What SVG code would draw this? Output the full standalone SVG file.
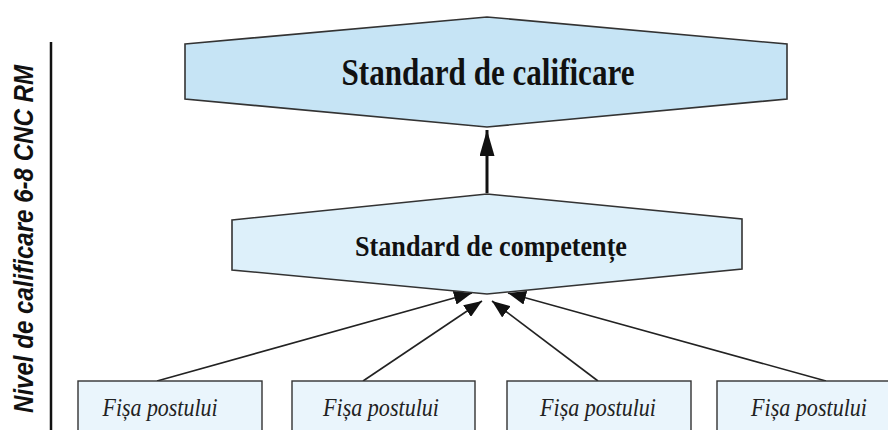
<svg xmlns="http://www.w3.org/2000/svg" width="888" height="430" viewBox="0 0 888 430">
<style>
.hex{stroke:#333;stroke-width:1.6;stroke-linejoin:miter}
.box{fill:#eaf5fc;stroke:#333;stroke-width:1.4}
.t1{font-family:"Liberation Serif",serif;font-weight:bold;fill:#111;text-anchor:middle}
.t2{font-family:"Liberation Serif",serif;font-style:italic;fill:#222;text-anchor:middle;font-size:26px}
.con{stroke:#222;stroke-width:1.6;fill:none}
.main{stroke:#111;stroke-width:3;fill:none}
</style>
<defs>
<marker id="ah" markerUnits="userSpaceOnUse" viewBox="0 0 18 14" markerWidth="18" markerHeight="14" refX="18" refY="7" orient="auto">
<path d="M0,0 L18,7 L0,14 Z" fill="#111"/>
</marker>
<marker id="ahb" markerUnits="userSpaceOnUse" viewBox="0 0 26 15" markerWidth="26" markerHeight="15" refX="26" refY="7.5" orient="auto">
<path d="M0,0 L26,7.5 L0,15 Z" fill="#111"/>
</marker>
</defs>
<rect width="888" height="430" fill="#fff"/>
<g id="axis">
<line x1="51" y1="42" x2="51" y2="430" stroke="#111" stroke-width="2.5"/>
<text transform="translate(33,239) rotate(-90)" x="0" y="0" text-anchor="middle" font-family="'Liberation Sans',Arial,sans-serif" font-weight="bold" font-style="italic" font-size="27" textLength="348" lengthAdjust="spacingAndGlyphs" fill="#111">Nivel de calificare 6-8 CNC RM</text>
</g>
<g id="connectors">
<line class="main" x1="487" y1="193" x2="487" y2="130" marker-end="url(#ahb)"/>
<line class="con" x1="157" y1="381" x2="472" y2="293" marker-end="url(#ah)"/>
<line class="con" x1="363" y1="381" x2="482" y2="301" marker-end="url(#ah)"/>
<line class="con" x1="598" y1="381" x2="492" y2="301" marker-end="url(#ah)"/>
<line class="con" x1="826" y1="381" x2="508" y2="293" marker-end="url(#ah)"/>
</g>
<g id="standard-calificare">
<polygon class="hex" fill="#c6e4f5" points="185,44 487,17 787,44 787,99 487,127 185,99"/>
<text class="t1" x="488" y="85" font-size="38" textLength="293" lengthAdjust="spacingAndGlyphs">Standard de calificare</text>
</g>
<g id="standard-competente">
<polygon class="hex" fill="#ddf0fa" points="232,220 487,194 742,219 742,269 487,294 232,270"/>
<text class="t1" x="491" y="256" font-size="29" textLength="272" lengthAdjust="spacingAndGlyphs">Standard de competențe</text>
</g>
<g id="fisa1">
<rect class="box" x="78" y="381" width="184" height="60"/>
<text class="t2" x="160" y="416" textLength="115" lengthAdjust="spacingAndGlyphs">Fișa postului</text>
</g>
<g id="fisa2">
<rect class="box" x="292" y="381" width="183" height="60"/>
<text class="t2" x="381" y="416" textLength="116" lengthAdjust="spacingAndGlyphs">Fișa postului</text>
</g>
<g id="fisa3">
<rect class="box" x="507" y="381" width="184" height="60"/>
<text class="t2" x="598" y="416" textLength="116" lengthAdjust="spacingAndGlyphs">Fișa postului</text>
</g>
<g id="fisa4">
<rect class="box" x="717" y="381" width="184" height="60"/>
<text class="t2" x="809" y="416" textLength="116" lengthAdjust="spacingAndGlyphs">Fișa postului</text>
</g>
</svg>
